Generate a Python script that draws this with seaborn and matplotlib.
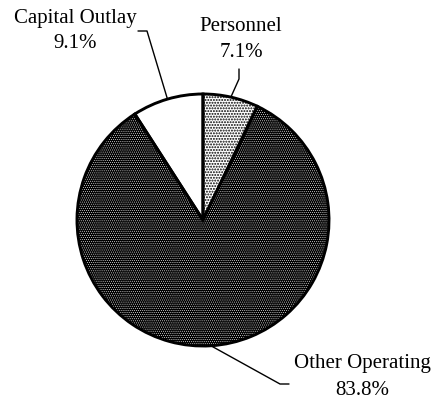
import numpy as np
import matplotlib
matplotlib.use("Agg")
import matplotlib.pyplot as plt
import seaborn as sns

categories = ["Personnel", "Other Operating", "Capital Outlay"]
shares = [7.1, 83.8, 9.1]
pct_labels = ["7.1%", "83.8%", "9.1%"]

sns.set_theme(style="white")
plt.rcParams["font.family"] = ["Liberation Serif", "DejaVu Serif"]

W, H = 435, 403
cx, cy, r = 203, 220, 126   # pie centre / radius in pixels

fig = plt.figure(figsize=(W / 100, H / 100), dpi=100)
fig.patch.set_facecolor("white")
ax = fig.add_axes([(cx - r) / W, (H - cy - r) / H, 2 * r / W, 2 * r / H])

def px(x, y):
    # pixel position (from top-left) -> data units of the pie axes
    return (x - cx) / r, (cy - y) / r

faces = ["white", "black", "white"]
hatch_cols = ["black", "white", "white"]
hatches = ["......", "........", None]
hatch_lw = [0.95, 0.35, 0.5]

# textured fill layer
wedges, _ = ax.pie(shares, startangle=90, counterclock=False, radius=1,
                   colors=faces, wedgeprops=dict(linewidth=0))
for w, hc, h, hl in zip(wedges, hatch_cols, hatches, hatch_lw):
    w.set_edgecolor(hc)
    w.set_linewidth(0)
    if h:
        w.set_hatch(h)
        if hasattr(w, "set_hatch_linewidth"):
            w.set_hatch_linewidth(hl)
        else:
            w._hatch_linewidth = hl

# outline layer
ax.pie(shares, startangle=90, counterclock=False, radius=1,
       colors=["none"] * 3,
       wedgeprops=dict(edgecolor="black", linewidth=2.1, fill=False))

# labels and leader lines (text centre x, name baseline, pct baseline)
text_pos = {"Personnel": (241, 31, 57),
            "Other Operating": (362, 368, 395),
            "Capital Outlay": (75, 23, 48)}
elbows = {"Personnel": [(239, 69), (239, 79)],
          "Other Operating": [(289, 384), (280, 384)],
          "Capital Outlay": [(138, 31), (147, 31)]}

for w, cat, lab in zip(wedges, categories, pct_labels):
    mid = np.deg2rad((w.theta1 + w.theta2) / 2)
    pts = [px(*p) for p in elbows[cat]] + [(np.cos(mid), np.sin(mid))]
    xs, ys = zip(*pts)
    ax.plot(xs, ys, color="black", lw=1.0, clip_on=False, zorder=5)
    tx, y1, y2 = text_pos[cat]
    for s, yy in ((cat, y1), (lab, y2)):
        x0, y0 = px(tx, yy)
        ax.text(x0, y0, s, ha="center", va="baseline", fontsize=15,
                color="black", clip_on=False)

ax.set_xlim(-1, 1)
ax.set_ylim(-1, 1)
ax.set_aspect("equal")
ax.axis("off")

fig.savefig("out.png", dpi=100, facecolor="white")
